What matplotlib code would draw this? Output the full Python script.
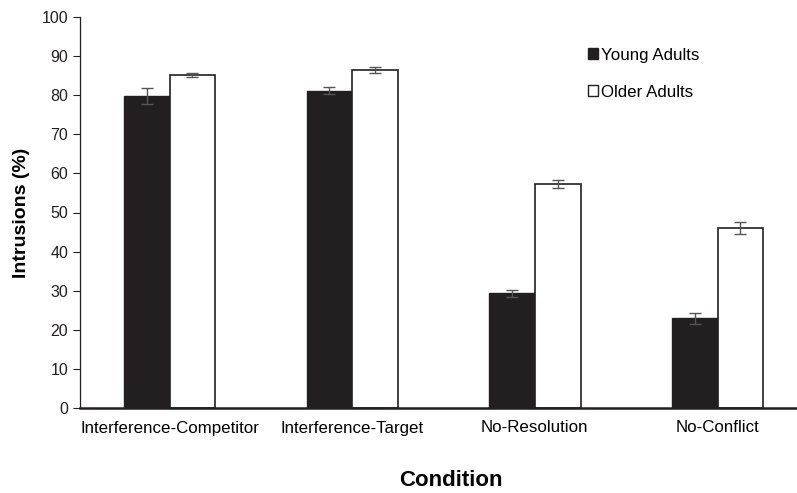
import numpy as np
import matplotlib
matplotlib.use("Agg")
import matplotlib.pyplot as plt
from matplotlib.patches import Patch

plt.rcParams["font.family"] = ["Liberation Sans", "DejaVu Sans"]

conditions = ["Interference-Competitor", "Interference-Target", "No-Resolution", "No-Conflict"]
young = [79.8, 81.2, 29.4, 22.9]
young_err = [2.0, 1.0, 0.9, 1.4]
older = [85.2, 86.4, 57.3, 46.0]
older_err = [0.6, 0.8, 1.1, 1.5]

W, H = 797, 493
fig = plt.figure(figsize=(W / 100, H / 100), dpi=100)
ax = fig.add_axes([80 / W, 1 - 408 / H, (W - 80) / W, (408 - 17) / H])

x = np.arange(len(conditions))
bw = 0.25
ax.bar(x - bw / 2, young, bw, color="#231f20", edgecolor="#231f20", lw=1.0)
ax.bar(x + bw / 2, older, bw, color="white", edgecolor="#231f20", lw=1.2)
ax.errorbar(x - bw / 2, young, yerr=young_err, fmt="none", ecolor="#555555",
            elinewidth=1.0, capsize=4, capthick=1.0)
ax.errorbar(x + bw / 2, older, yerr=older_err, fmt="none", ecolor="#555555",
            elinewidth=1.0, capsize=4, capthick=1.0)

ax.set_xlim(-0.49, 3.435)
ax.set_ylim(0, 100)
ax.set_yticks(range(0, 101, 10))
ax.set_xticks(x)
ax.set_xticklabels(conditions, fontsize=12.2)
ax.tick_params(axis="x", length=0, pad=9)
ax.tick_params(axis="y", length=5, width=0.8, labelsize=11.5, colors="#231f20")
for s in ("top", "right"):
    ax.spines[s].set_visible(False)
ax.spines["bottom"].set_linewidth(1.8)
ax.spines["left"].set_linewidth(0.9)
ax.spines["bottom"].set_color("#231f20")
ax.spines["left"].set_color("#231f20")

ax.set_ylabel("Intrusions (%)", fontsize=14, fontweight="bold", labelpad=8)
fig.text(451 / W, 1 - 481 / H, "Condition", fontsize=16,
         fontweight="bold", ha="center", va="center")

handles = [Patch(facecolor="#231f20", edgecolor="#231f20"),
           Patch(facecolor="white", edgecolor="#231f20")]
leg = ax.legend(handles, ["Young Adults", "Older Adults"], loc="upper left",
                frameon=False, fontsize=12.2, handlelength=0.6, handleheight=0.6,
                handletextpad=0.2, labelspacing=1.3, borderaxespad=0)
leg.set_bbox_to_anchor((581 / W, 1 - 41 / H), transform=fig.transFigure)

fig.savefig("out.png", dpi=100)
